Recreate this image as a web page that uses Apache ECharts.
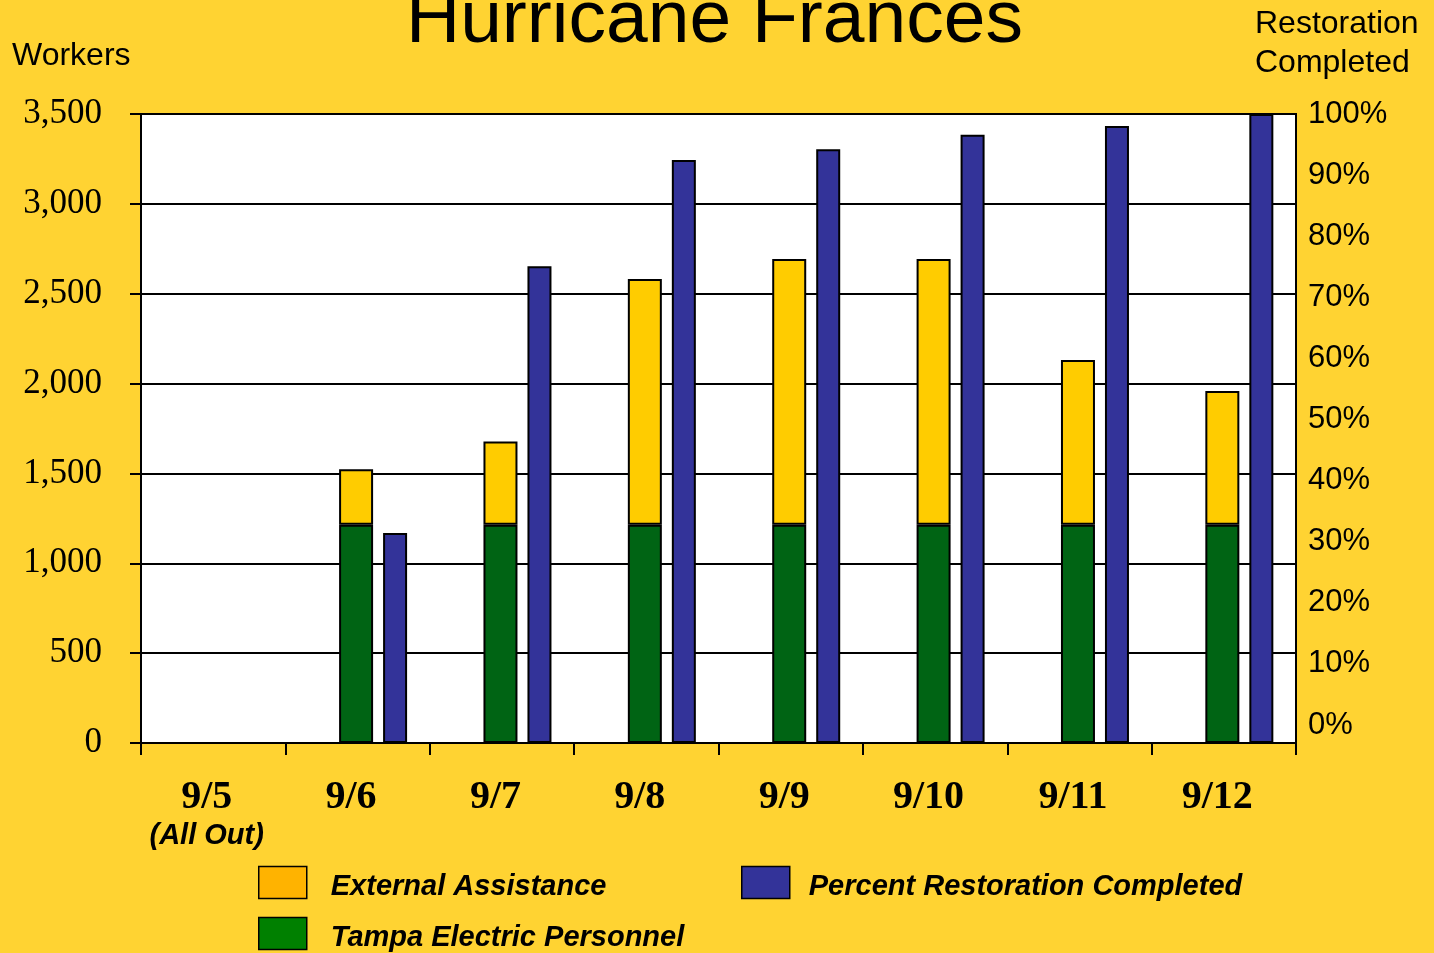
<!DOCTYPE html>
<html>
<head>
<meta charset="utf-8">
<script src="https://cdn.jsdelivr.net/npm/echarts@6/dist/echarts.min.js"></script>
<style>
  html, body { margin: 0; padding: 0; background: #FFD332; }
  #chart { width: 1434px; height: 953px; }
</style>
</head>
<body>
<div id="chart"></div>
<script>
var categories = ['9/5', '9/6', '9/7', '9/8', '9/9', '9/10', '9/11', '9/12']
var subLabels = { '9/5': '(All Out)' }
// workers
var tampaElectric = [null, 1215, 1215, 1215, 1215, 1215, 1215, 1215]
var externalAssist = [null, 308, 462, 1367, 1478, 1478, 916, 744]
// percent restoration completed
var percentRestored = [null, 33.4, 75.8, 92.7, 94.4, 96.7, 98.1, 100]
var workerTicks = [0, 500, 1000, 1500, 2000, 2500, 3000, 3500]
var percentTicks = [0, 10, 20, 30, 40, 50, 60, 70, 80, 90, 100]

var sans = 'Liberation Sans, Arial, sans-serif'
var serif = 'Liberation Serif, Times New Roman, serif'

var myChart = echarts.init(document.getElementById('chart'))

function makeLegend(name, color, left, top, gap) {
  return {
    left: left,
    top: top,
    padding: 0,
    itemWidth: 48,
    itemHeight: 32,
    icon: 'rect',
    selectedMode: false,
    formatter: '{n|{name}}',
    textStyle: {
      color: '#000',
      rich: {
        n: {
          fontFamily: sans,
          fontSize: 29,
          fontWeight: 'bold',
          fontStyle: 'italic',
          color: '#000',
          lineHeight: 34,
          padding: [8, 0, 0, gap]
        }
      }
    },
    data: [{ name: name, itemStyle: { color: color, borderColor: '#000', borderWidth: 1.5 } }]
  }
}

var barBorder = { borderColor: '#000', borderWidth: 2 }

var option = {
  backgroundColor: '#FFD332',
  animation: false,
  title: {
    text: 'Hurricane Frances',
    left: 406,
    top: -16,
    padding: 0,
    textStyle: { fontFamily: sans, fontSize: 75, fontWeight: 'normal', color: '#000' }
  },
  graphic: [
    {
      type: 'text', left: 12, top: 40,
      style: { text: 'Workers', font: '32px ' + sans, fill: '#000' }
    },
    {
      type: 'text', left: 1255, top: 5,
      style: { text: 'Restoration\nCompleted', font: '32px ' + sans, fill: '#000', lineHeight: 39 }
    }
  ],
  legend: [
    makeLegend('External Assistance', '#FFB300', 258, 864, 19),
    makeLegend('Percent Restoration Completed', '#333399', 741, 864, 14),
    makeLegend('Tampa Electric Personnel', '#008000', 258, 915, 19)
  ],
  grid: {
    left: 141,
    right: 138,
    top: 114,
    bottom: 210,
    show: true,
    backgroundColor: '#fff',
    borderColor: '#000',
    borderWidth: 2
  },
  xAxis: {
    type: 'category',
    data: categories,
    axisLine: { lineStyle: { color: '#000', width: 2 } },
    axisTick: { show: true, inside: false, length: 12, lineStyle: { color: '#000', width: 2 } },
    axisLabel: {
      interval: 0,
      margin: 35,
      padding: [0, 13, 0, 0],
      formatter: function(v) {
        return subLabels[v] ? '{d|' + v + '}\n{s|' + subLabels[v] + '}' : '{d|' + v + '}'
      },
      rich: {
        d: { fontFamily: serif, fontSize: 40, fontWeight: 'bold', color: '#000', lineHeight: 40 },
        s: { fontFamily: sans, fontSize: 29, fontWeight: 'bold', fontStyle: 'italic', color: '#000', lineHeight: 36 }
      }
    }
  },
  yAxis: [{
    type: 'value',
    min: 0,
    max: 3500,
    interval: 500,
    axisLine: { show: true, lineStyle: { color: '#000', width: 2 } },
    axisTick: { show: true, length: 11, lineStyle: { color: '#000', width: 2 } },
    splitLine: { show: true, lineStyle: { color: '#000', width: 2 } },
    axisLabel: {
      margin: 39,
      fontFamily: serif,
      fontSize: 35,
      color: '#000',
      customValues: workerTicks,
      formatter: function(v) { return v.toLocaleString('en-US') }
    }
  },
  {
    type: 'value',
    position: 'right',
    min: -2.95,
    max: 100,
    axisLine: { show: false },
    axisTick: { show: false },
    splitLine: { show: false },
    axisLabel: {
      margin: 12,
      fontFamily: sans,
      fontSize: 31,
      color: '#000',
      customValues: percentTicks,
      formatter: '{value}%'
    }
  },
  {
    type: 'value',
    position: 'right',
    show: false,
    min: 0,
    max: 100
  }],
  series: [{
    name: 'pad',
    type: 'bar',
    barWidth: 24,
    barGap: '29.4%',
    silent: true,
    data: categories.map(function() { return null })
  },
  {
    name: 'Tampa Electric Personnel',
    type: 'bar',
    stack: 'workers',
    barWidth: 34,
    barGap: '29.4%',
    itemStyle: Object.assign({ color: '#006414' }, barBorder),
    data: tampaElectric
  },
  {
    name: 'External Assistance',
    type: 'bar',
    stack: 'workers',
    barWidth: 34,
    barGap: '29.4%',
    itemStyle: Object.assign({ color: '#FFCC00' }, barBorder),
    data: externalAssist
  },
  {
    name: 'Percent Restoration Completed',
    type: 'bar',
    yAxisIndex: 2,
    barWidth: 24,
    barGap: '29.4%',
    itemStyle: Object.assign({ color: '#333399' }, barBorder),
    data: percentRestored
  }]
}

myChart.setOption(option)
window.addEventListener('resize', () => { myChart.resize() })
</script>
</body>
</html>
